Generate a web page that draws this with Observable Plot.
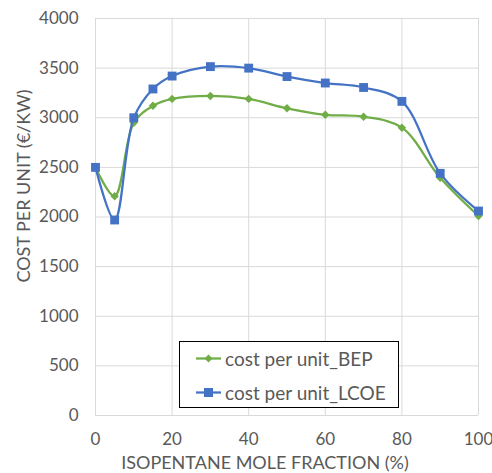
<!DOCTYPE html>
<html>
<head>
<meta charset="utf-8">
<script src="https://cdn.jsdelivr.net/npm/d3@7"></script>
<script src="https://cdn.jsdelivr.net/npm/@observablehq/plot@0.6"></script>
<style>
  body { margin: 0; background: #fff; }
  #wrap { position: relative; width: 492px; height: 473px; font-family: Lato, "Open Sans", sans-serif; }
  #legend { position: absolute; left: 179px; top: 341px; width: 220px; height: 67px; border: 1px solid #000; background: #fff; box-sizing: border-box; }
  .li { position: absolute; left: 16px; display: flex; align-items: center; font-size: 19px; color: #595959; }
  .li svg { margin-right: 3px; }
</style>
</head>
<body>
<div id="wrap"></div>
<script>
const fractions = [0, 5, 10, 15, 20, 30, 40, 50, 60, 70, 80, 90, 100];
const bep  = [2500, 2210, 2950, 3120, 3190, 3220, 3190, 3095, 3030, 3010, 2900, 2395, 2010];
const lcoe = [2500, 1970, 3000, 3290, 3420, 3515, 3500, 3415, 3350, 3305, 3165, 2440, 2060];
const xTicks = [0, 20, 40, 60, 80, 100];
const yTicks = [0, 500, 1000, 1500, 2000, 2500, 3000, 3500, 4000];
const seriesNames = ["cost per unit_BEP", "cost per unit_LCOE"];
const colors = ["#70AD47", "#4472C4"];

const dBep = fractions.map((x, i) => ({x, y: bep[i]}));
const dLcoe = fractions.map((x, i) => ({x, y: lcoe[i]}));

const chart = Plot.plot({
  width: 492,
  height: 473,
  marginLeft: 95,
  marginRight: 14,
  marginTop: 18,
  marginBottom: 58,
  style: {fontFamily: "Lato, 'Open Sans', sans-serif", fontSize: "17px", color: "#595959", background: "#fff"},
  x: {domain: [0, 100]},
  y: {domain: [0, 4000]},
  marks: [
    Plot.gridX(xTicks, {stroke: "#d9d9d9", strokeOpacity: 1, strokeWidth: 1}),
    Plot.gridY(yTicks, {stroke: "#d9d9d9", strokeOpacity: 1, strokeWidth: 1}),
    Plot.ruleY([0], {stroke: "#d9d9d9", strokeWidth: 1}),
    Plot.axisX(xTicks, {tickSize: 0, tickPadding: 17, fontSize: 17, tickFormat: d => String(d), label: null}),
    Plot.axisY(yTicks, {tickSize: 0, tickPadding: 17, fontSize: 17, tickFormat: d => String(d), label: null}),
    Plot.text(["ISOPENTANE MOLE FRACTION (%)"], {frameAnchor: "bottom", dx: -22, dy: 48, fontSize: 18, fill: "#595959", lineAnchor: "middle"}),
    Plot.text(["COST PER UNIT (€/KW)"], {frameAnchor: "left", textAnchor: "middle", dx: -71, dy: -31, rotate: -90, fontSize: 18, fill: "#595959", lineAnchor: "middle"}),
    Plot.line(dBep, {x: "x", y: "y", stroke: colors[0], strokeWidth: 2.25, curve: "catmull-rom"}),
    Plot.dot(dBep, {x: "x", y: "y", symbol: "diamond2", r: 3.8, fill: colors[0], stroke: null}),
    Plot.line(dLcoe, {x: "x", y: "y", stroke: colors[1], strokeWidth: 2.25, curve: "catmull-rom"}),
    Plot.dot(dLcoe, {x: "x", y: "y", symbol: "square", r: 5, fill: colors[1], stroke: null})
  ]
});
const wrap = document.getElementById("wrap");
wrap.appendChild(chart);

const legend = document.createElement("div");
legend.id = "legend";
const tops = [5, 39];
seriesNames.forEach((name, i) => {
  const item = document.createElement("div");
  item.className = "li";
  item.style.top = tops[i] + "px";
  const marker = i === 0
    ? `<path d="M12.5,4.5 L16.5,8.5 L12.5,12.5 L8.5,8.5Z" fill="${colors[i]}"/>`
    : `<rect x="8" y="4" width="9" height="9" fill="${colors[i]}"/>`;
  item.innerHTML = `<svg width="26" height="17"><line x1="0" x2="25" y1="8.5" y2="8.5" stroke="${colors[i]}" stroke-width="2.25"/>${marker}</svg><span>${name}</span>`;
  legend.appendChild(item);
});
wrap.appendChild(legend);
</script>
</body>
</html>
